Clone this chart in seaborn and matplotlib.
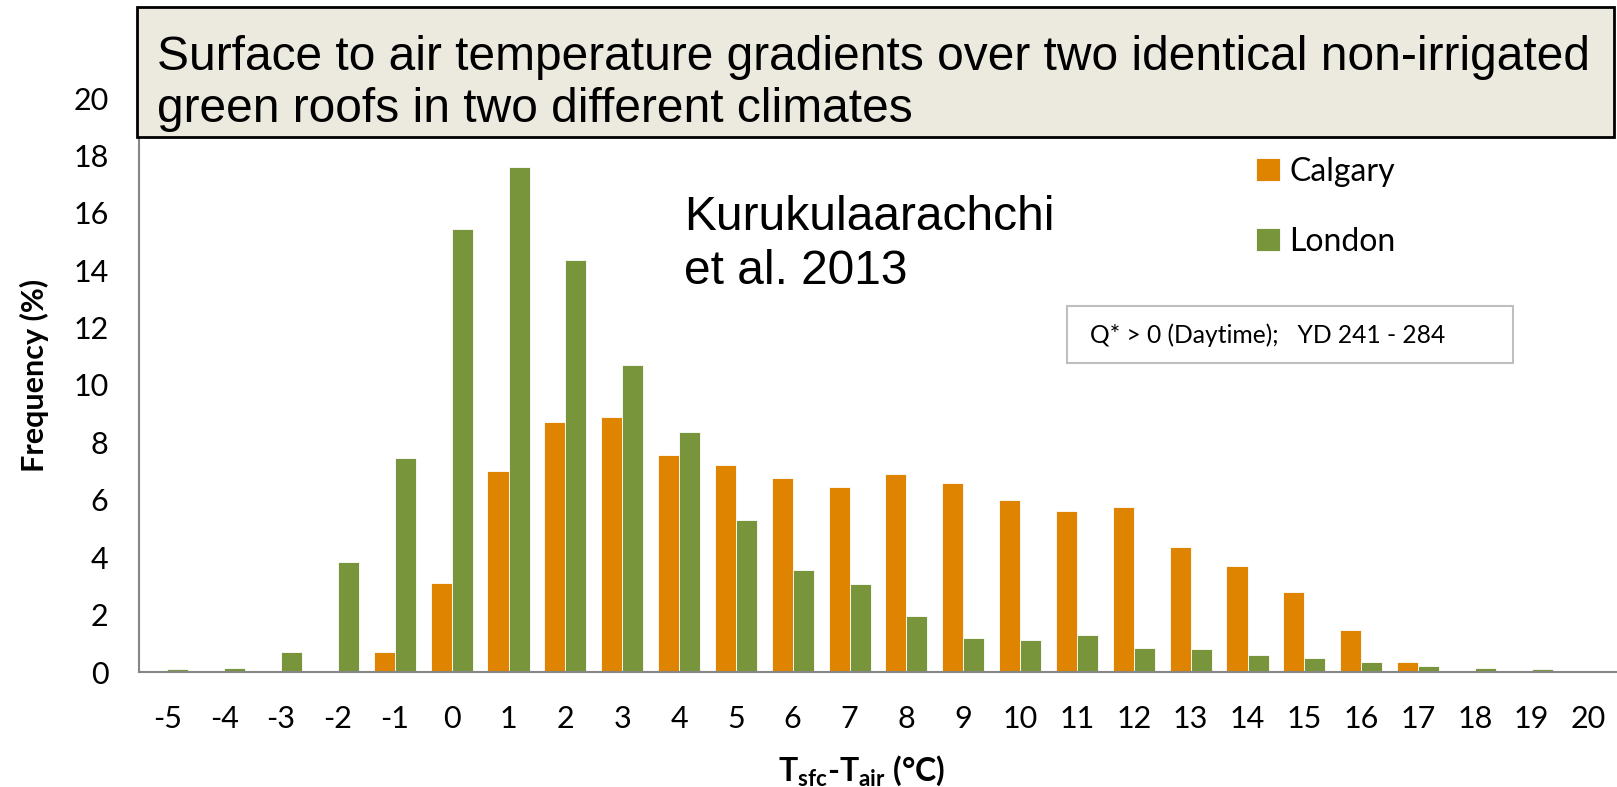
import matplotlib
matplotlib.use("Agg")
import matplotlib.pyplot as plt
import seaborn as sns
import pandas as pd
from matplotlib.patches import Rectangle

# temperature difference bins (°C)
bins = ['-5', '-4', '-3', '-2', '-1', '0', '1', '2', '3', '4', '5', '6', '7',
        '8', '9', '10', '11', '12', '13', '14', '15', '16', '17', '18', '19', '20']

# frequency (%) per bin
calgary = [0, 0, 0, 0.05, 0.7, 3.1, 7.0, 8.7, 8.9, 7.55, 7.2, 6.75, 6.45,
           6.9, 6.6, 6.0, 5.6, 5.75, 4.35, 3.7, 2.8, 1.45, 0.35, 0.05, 0, 0]
london = [0.1, 0.15, 0.7, 3.85, 7.45, 15.45, 17.6, 14.35, 10.7, 8.35, 5.3, 3.55, 3.05,
          1.95, 1.2, 1.1, 1.3, 0.85, 0.8, 0.6, 0.5, 0.35, 0.2, 0.15, 0.1, 0.03]

cities = ['Calgary', 'London']
colors = ['#DE8400', '#79953C']
yticks = [0, 2, 4, 6, 8, 10, 12, 14, 16, 18, 20]

df = pd.DataFrame({
    'bin': bins * 2,
    'freq': calgary + london,
    'city': [cities[0]] * len(bins) + [cities[1]] * len(bins),
})

sns.set_style('white')
plt.rcParams['font.family'] = ['Lato', 'DejaVu Sans']
plt.rcParams['text.color'] = 'black'
plt.rcParams['axes.labelcolor'] = 'black'
plt.rcParams['mathtext.fontset'] = 'custom'
plt.rcParams['mathtext.rm'] = 'Lato'
plt.rcParams['mathtext.bf'] = 'Lato:bold'

W, H = 1617, 787
fig = plt.figure(figsize=(W / 100, H / 100), dpi=100)
ax = fig.add_axes([139 / W, 1 - 672 / H, 1 - 139 / W, (672 - 98) / H])

sns.barplot(data=df, x='bin', y='freq', hue='city', order=bins, hue_order=cities,
            palette=colors, width=0.74, edgecolor='white', linewidth=0.6,
            saturation=1, ax=ax)

ax.set_xlim(-0.5, len(bins) - 0.5)
ax.set_ylim(0, 20)
ax.set_yticks(yticks)
ax.set_yticklabels([str(t) for t in yticks])

# axes styling
for s in ['top', 'right']:
    ax.spines[s].set_visible(False)
for s in ['left', 'bottom']:
    ax.spines[s].set_color('#868686')
    ax.spines[s].set_linewidth(1.5)

ax.tick_params(axis='y', direction='in', length=7, width=1, color='#868686',
               labelsize=22, pad=22, labelcolor='black')
ax.tick_params(axis='x', which='major', length=0, labelsize=22, pad=24, labelcolor='black')
ax.set_xticks([i - 0.5 for i in range(len(bins) + 1)], minor=True)
ax.tick_params(axis='x', which='minor', direction='out', length=8, width=1,
               color='#868686')

ax.set_xlabel(r'T$_{\mathbf{sfc}}$-T$_{\mathbf{air}}$ (°C)', fontsize=23, fontweight='bold')
ax.xaxis.set_label_coords(0.489, -0.142)
ax.set_ylabel('Frequency (%)', fontsize=22, fontweight='bold')
ax.yaxis.set_label_coords(-0.061, 0.517)

# legend
handles, labels = ax.get_legend_handles_labels()
ax.legend(handles, labels, loc='upper left', bbox_to_anchor=(1243 / W, 1 - 144 / H),
          bbox_transform=fig.transFigure, frameon=False, fontsize=23,
          handlelength=0.75, handleheight=0.75, handletextpad=0.3, labelspacing=1.25,
          borderaxespad=0)

# title box
fig.patches.append(Rectangle((137 / W, 1 - 137 / H), (1614 - 137) / W, (137 - 7) / H,
                             transform=fig.transFigure, facecolor='#ECE9DF',
                             edgecolor='black', linewidth=2, zorder=5))
fig.text(157 / W, 1 - 58 / H, 'Surface to air temperature gradients over two identical non-irrigated',
         fontsize=34.5, family='Liberation Sans', va='center', ha='left', zorder=6)
fig.text(157 / W, 1 - 109 / H, 'green roofs in two different climates',
         fontsize=34.5, family='Liberation Sans', va='center', ha='left', zorder=6)

# citation
fig.text(684 / W, 1 - 217 / H, 'Kurukulaarachchi', fontsize=34.5,
         family='Liberation Sans', va='center', ha='left')
fig.text(684 / W, 1 - 271 / H, 'et al. 2013', fontsize=34.5,
         family='Liberation Sans', va='center', ha='left')

# condition box
fig.patches.append(Rectangle((1067 / W, 1 - 363 / H), (1513 - 1067) / W, (363 - 306) / H,
                             transform=fig.transFigure, facecolor='white',
                             edgecolor='#BFBFBF', linewidth=1.5, zorder=5))
fig.text(1090 / W, 1 - 335 / H, 'Q* > 0 (Daytime);   YD 241 - 284', fontsize=17.7,
         va='center', ha='left', zorder=6)

fig.savefig('out.png', dpi=100)
